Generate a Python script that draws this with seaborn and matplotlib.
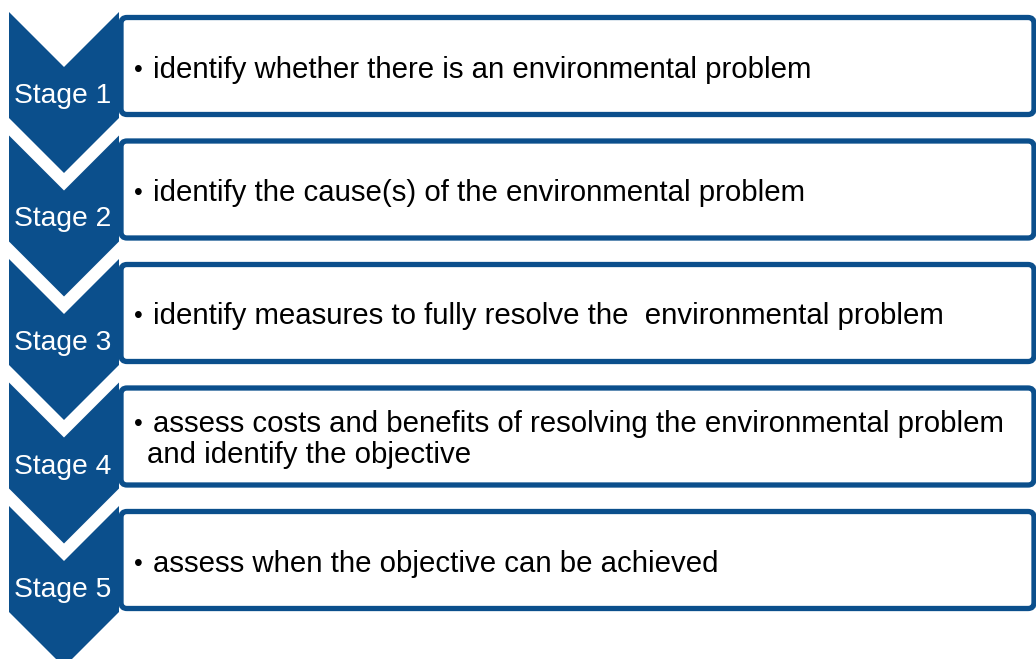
import numpy as np
import matplotlib.pyplot as plt
import matplotlib.patches as mpatches
import seaborn as sns

# stage labels and the text for each box
stages = ["Stage 1", "Stage 2", "Stage 3", "Stage 4", "Stage 5"]
descriptions = [
    "identify whether there is an environmental problem",
    "identify the cause(s) of the environmental problem",
    "identify measures to fully resolve the  environmental problem",
    "assess costs and benefits of resolving the environmental problem\nand identify the objective",
    "assess when the objective can be achieved",
]

BLUE = "#0b4f8c"
W, H = 1036, 659
STEP = 123.5
FS = 21.2

sns.set_theme(style="white")
plt.rcParams["font.family"] = ["Liberation Sans", "DejaVu Sans"]

fig = plt.figure(figsize=(W / 100, H / 100), dpi=100)
ax = fig.add_axes([0, 0, 1, 1])
ax.set_xlim(0, W)
ax.set_ylim(H, 0)
ax.axis("off")

for i, (stage, desc) in enumerate(zip(stages, descriptions)):
    top = 12 + STEP * i
    # downward chevron on the left
    chev = mpatches.Polygon(
        [(9, top), (64, top + 55), (119, top), (119, top + 106),
         (64, top + 161), (9, top + 106)],
        closed=True, facecolor=BLUE, edgecolor="none", zorder=1)
    ax.add_patch(chev)

    # rounded box on the right
    rtop = 17.5 + STEP * i
    box = mpatches.FancyBboxPatch(
        (121, rtop), 913, 97,
        boxstyle="round,pad=0,rounding_size=6",
        facecolor="white", edgecolor=BLUE, linewidth=3.8, zorder=2)
    ax.add_patch(box)

    ax.text(63, top + 84, stage, color="white", fontsize=20.3,
            ha="center", va="center", zorder=3)

    lines = desc.split("\n")
    cy = rtop + 52
    if len(lines) == 1:
        ax.text(134, cy, "\u2022", fontsize=18, ha="left", va="center", color="black", zorder=3)
        ax.text(153, cy, lines[0], fontsize=FS, ha="left", va="center", color="black", zorder=3)
    else:
        ax.text(134, cy - 16, "\u2022", fontsize=18, ha="left", va="center", color="black", zorder=3)
        ax.text(153, cy - 16, lines[0], fontsize=FS, ha="left", va="center", color="black", zorder=3)
        ax.text(147, cy + 15, lines[1], fontsize=FS, ha="left", va="center", color="black", zorder=3)

fig.savefig("out.png", dpi=100, facecolor="white")
